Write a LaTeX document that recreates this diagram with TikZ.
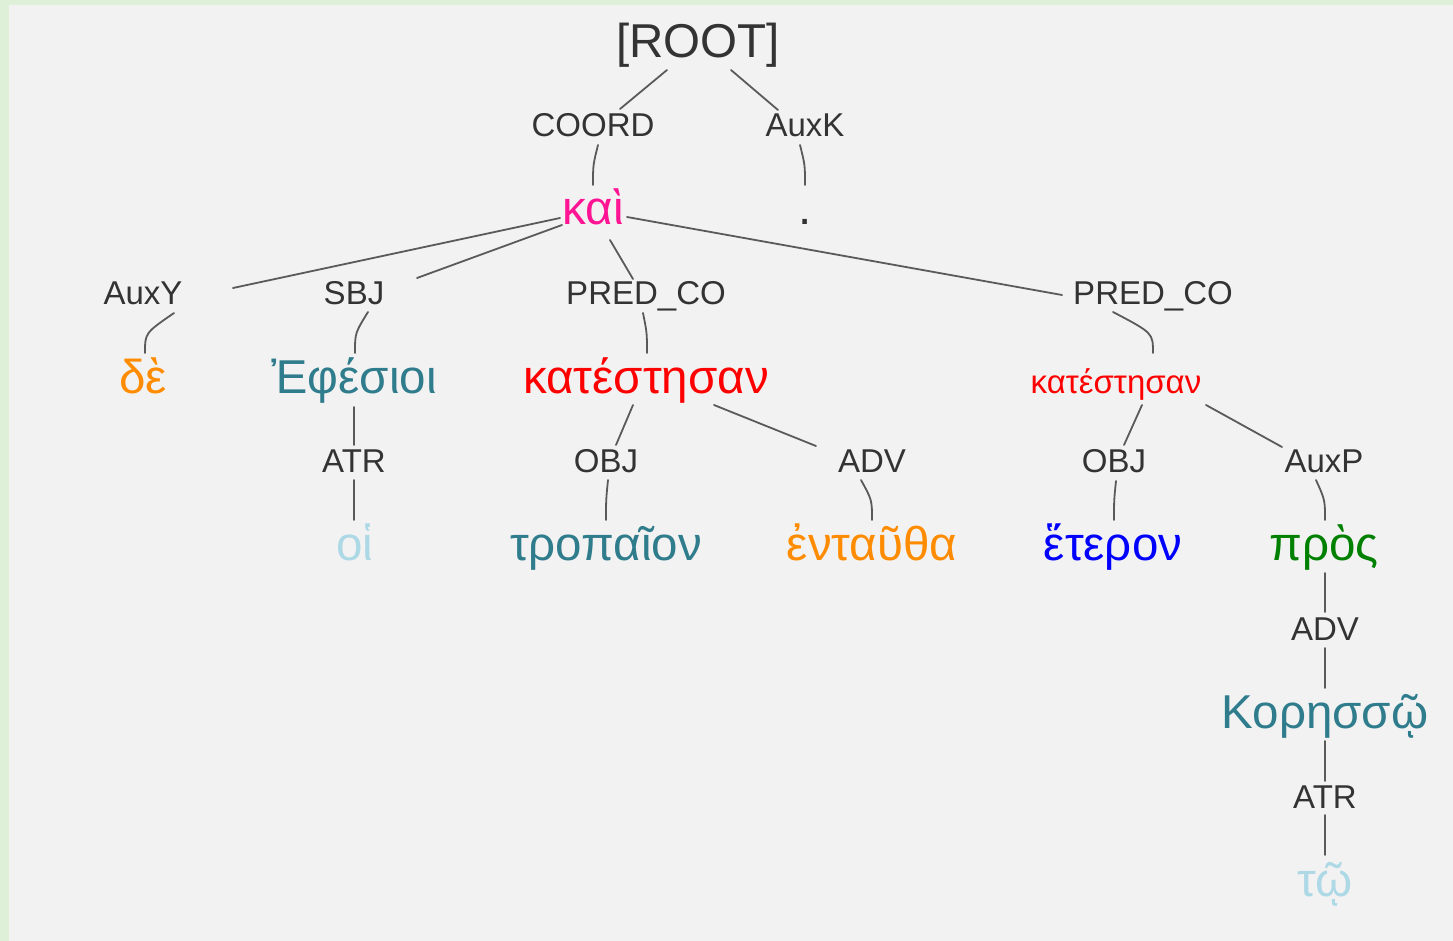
\documentclass[tikz,border=0pt]{standalone}
\usepackage{fontspec}
\setmainfont{Liberation Sans}
\usetikzlibrary{calc}
\definecolor{bgreen}{HTML}{DFF0D8}
\definecolor{bgray}{HTML}{F2F2F2}
\definecolor{labc}{HTML}{333333}
\definecolor{edgec}{HTML}{5A5A5A}
\definecolor{wpink}{HTML}{FF1493}
\definecolor{worange}{HTML}{FF8C00}
\definecolor{wteal}{HTML}{2F7C8C}
\definecolor{wred}{HTML}{FF0000}
\definecolor{wlblue}{HTML}{ADD8E6}
\definecolor{wblue}{HTML}{0000FF}
\definecolor{wgreen}{HTML}{008000}
\tikzset{
  word/.style={anchor=base, inner sep=0pt, font=\fontsize{47.5}{52}\selectfont},
  smallword/.style={anchor=base, inner sep=0pt, font=\fontsize{33}{37}\selectfont},
  lab/.style={anchor=base, inner sep=0pt, text=labc, font=\fontsize{33}{37}\selectfont},
  edge/.style={draw=edgec, line width=1.8pt, line cap=round},
}
\begin{document}
\begin{tikzpicture}[x=1pt, y=-1pt]
\useasboundingbox (0,0) rectangle (1453,941);
\fill[bgreen] (0,0) rectangle (1453,941);
\fill[bgray] (9,5) rectangle (1453,941);
% words
\node[word, text=labc] (root) at (698,58) {[ROOT]};
\node[word, text=wpink] (kai) at (593,225) {καὶ};
\node[word, text=labc] (dot) at (805,225) {.};
\node[word, text=worange] (de) at (143,393) {δὲ};
\node[word, text=wteal] (ephesioi) at (354,393) {Ἐφέσιοι};
\node[word, text=wred] (kat1) at (646,393) {κατέστησαν};
\node[smallword, text=wred] (kat2) at (1116,393) {κατέστησαν};
\node[word, text=wlblue] (hoi) at (355,560) {οἱ};
\node[word, text=wteal] (tropaion) at (606,560) {τροπαῖον};
\node[word, text=worange] (entautha) at (872,560) {ἐνταῦθα};
\node[word, text=wblue] (heteron) at (1113,560) {ἕτερον};
\node[word, text=wgreen] (pros) at (1324,560) {πρὸς};
\node[word, text=wteal] (koressoi) at (1325,728) {Κορησσῷ};
\node[word, text=wlblue] (toi) at (1325,896) {τῷ};
% labels
\node[lab] (lcoord) at (593,137) {COORD};
\node[lab] (lauxk) at (805,137) {AuxK};
\node[lab] (lauxy) at (143,305) {AuxY};
\node[lab] (lsbj) at (354,305) {SBJ};
\node[lab] (lpred1) at (646,305) {PRED\_CO};
\node[lab] (lpred2) at (1153,305) {PRED\_CO};
\node[lab] (latr1) at (354,472) {ATR};
\node[lab] (lobj1) at (606,472) {OBJ};
\node[lab] (ladv1) at (872,472) {ADV};
\node[lab] (lobj2) at (1114,472) {OBJ};
\node[lab] (lauxp) at (1324,472) {AuxP};
\node[lab] (ladv2) at (1325,640) {ADV};
\node[lab] (latr2) at (1325,808) {ATR};
% parent -> label (straight)
\draw[edge] ($(root.base)+(-31,12)$) -- ($(lcoord.base)+(27,-28)$);
\draw[edge] ($(root.base)+(33,12)$) -- ($(lauxk.base)+(-27,-27)$);
\draw[edge] ($(kai.base)+(-33,-7)$) -- ($(lauxy.base)+(90,-17)$);
\draw[edge] ($(kai.base)+(-31,0)$) -- ($(lsbj.base)+(63,-27)$);
\draw[edge] ($(kai.base)+(17,15)$) -- ($(lpred1.base)+(-13,-26)$);
\draw[edge] ($(kai.base)+(34,-8)$) -- ($(lpred2.base)+(-91,-10)$);
\draw[edge] ($(kat1.base)+(-13,12)$) -- ($(lobj1.base)+(10,-27)$);
\draw[edge] ($(kat1.base)+(68,12)$) -- ($(ladv1.base)+(-56,-26)$);
\draw[edge] ($(ephesioi.base)+(0,14)$) -- ($(latr1.base)+(0,-27)$);
\draw[edge] ($(kat2.base)+(26,12)$) -- ($(lobj2.base)+(10,-27)$);
\draw[edge] ($(kat2.base)+(90,12)$) -- ($(lauxp.base)+(-42,-25)$);
\draw[edge] ($(pros.base)+(1,13)$) -- ($(ladv2.base)+(0,-28)$);
\draw[edge] ($(koressoi.base)+(0,13)$) -- ($(latr2.base)+(0,-27)$);
% label -> child (curved)
\draw[edge] ($(lcoord.base)+(5,8)$) .. controls ($(kai.base)+(0,-60)$) .. ($(kai.base)+(0,-40)$);
\draw[edge] ($(lauxk.base)+(-5,8)$) .. controls ($(dot.base)+(0,-60)$) .. ($(dot.base)+(0,-40)$);
\draw[edge] ($(lauxy.base)+(31,8)$) .. controls ($(de.base)+(2,-60)$) .. ($(de.base)+(2,-40)$);
\draw[edge] ($(lsbj.base)+(14,7)$) .. controls ($(ephesioi.base)+(1,-60)$) .. ($(ephesioi.base)+(1,-40)$);
\draw[edge] ($(lpred1.base)+(-3,8)$) .. controls ($(kat1.base)+(1,-60)$) .. ($(kat1.base)+(1,-40)$);
\draw[edge] ($(lpred2.base)+(-40,7)$) .. controls ($(kat2.base)+(37,-60)$) .. ($(kat2.base)+(37,-40)$);
\draw[edge] ($(latr1.base)+(0,8)$) .. controls ($(hoi.base)+(-1,-60)$) .. ($(hoi.base)+(-1,-40)$);
\draw[edge] ($(lobj1.base)+(2,8)$) .. controls ($(tropaion.base)+(0,-60)$) .. ($(tropaion.base)+(0,-40)$);
\draw[edge] ($(ladv1.base)+(-11,8)$) .. controls ($(entautha.base)+(0,-60)$) .. ($(entautha.base)+(0,-40)$);
\draw[edge] ($(lobj2.base)+(2,9)$) .. controls ($(heteron.base)+(1,-60)$) .. ($(heteron.base)+(1,-40)$);
\draw[edge] ($(lauxp.base)+(-8,8)$) .. controls ($(pros.base)+(1,-60)$) .. ($(pros.base)+(1,-40)$);
\draw[edge] ($(ladv2.base)+(0,8)$) .. controls ($(koressoi.base)+(0,-60)$) .. ($(koressoi.base)+(0,-40)$);
\draw[edge] ($(latr2.base)+(0,7)$) .. controls ($(toi.base)+(0,-61)$) .. ($(toi.base)+(0,-41)$);
\end{tikzpicture}
\end{document}
